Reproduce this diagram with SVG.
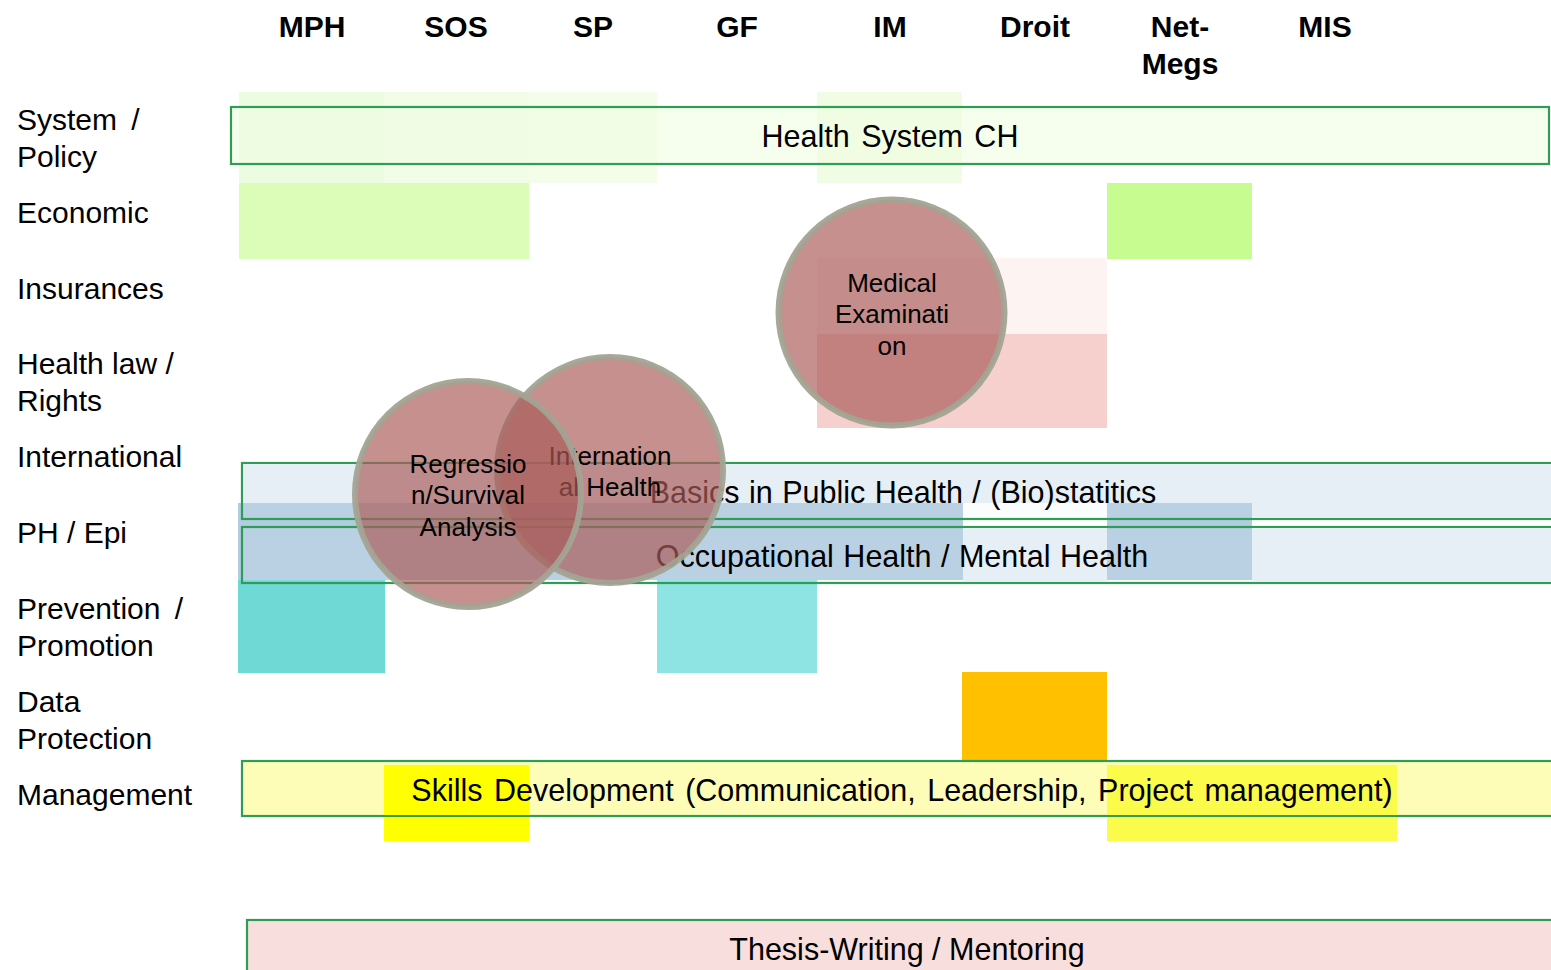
<svg xmlns="http://www.w3.org/2000/svg" width="1551" height="970" viewBox="0 0 1551 970">
<style>
text{font-family:"Liberation Sans",Arial,sans-serif;fill:#000}
.hd{font-size:30px;font-weight:bold;text-anchor:middle}
.rl{font-size:30px}
.bt{font-size:30.5px;text-anchor:middle;word-spacing:3px}
.bt1{word-spacing:1px}
.ct{font-size:26px;text-anchor:middle}
.bar{stroke:#2f9d55;stroke-width:2.2}
.circ{fill:#a95b58;fill-opacity:0.68;stroke:#a3a393;stroke-width:6;stroke-opacity:0.95}
</style>
<rect width="1551" height="970" fill="#fff"/>
<g id="headers">
<text class="hd" x="312" y="37">MPH</text>
<text class="hd" x="456" y="37">SOS</text>
<text class="hd" x="593" y="37">SP</text>
<text class="hd" x="737" y="37">GF</text>
<text class="hd" x="890" y="37">IM</text>
<text class="hd" x="1035" y="37">Droit</text>
<text class="hd" x="1180" y="37">Net-</text>
<text class="hd" x="1180" y="74">Megs</text>
<text class="hd" x="1325" y="37">MIS</text>
</g>
<g id="rowlabels">
<text class="rl" x="17" y="130" style="word-spacing:6px">System /</text>
<text class="rl" x="17" y="167">Policy</text>
<text class="rl" x="17" y="223">Economic</text>
<text class="rl" x="17" y="299">Insurances</text>
<text class="rl" x="17" y="374">Health law /</text>
<text class="rl" x="17" y="411">Rights</text>
<text class="rl" x="17" y="467">International</text>
<text class="rl" x="17" y="543">PH / Epi</text>
<text class="rl" x="17" y="619" style="word-spacing:6px">Prevention /</text>
<text class="rl" x="17" y="656">Promotion</text>
<text class="rl" x="17" y="712">Data</text>
<text class="rl" x="17" y="749">Protection</text>
<text class="rl" x="17" y="805">Management</text>
</g>
<g id="cells">
<rect x="239" y="92" width="145" height="91" fill="#ecfce0"/>
<rect x="384" y="92" width="145" height="91" fill="#f1fde6"/>
<rect x="529" y="92" width="128" height="91" fill="#f3fde9"/>
<rect x="817" y="92" width="145" height="91" fill="#f0fde4"/>
<rect x="239" y="183" width="290" height="76" fill="#dcfdb8"/>
<rect x="1107" y="183" width="145" height="76" fill="#c7fc91"/>
<rect x="817" y="258" width="290" height="76" fill="#fcf3f2"/>
<rect x="817" y="334" width="290" height="94" fill="#f5d0cd"/>
<rect x="238" y="503" width="725" height="77" fill="#b3cde0"/>
<rect x="1107" y="503" width="145" height="77" fill="#b3cde0"/>
<rect x="238" y="580" width="147" height="93" fill="#6fd9d6"/>
<rect x="657" y="580" width="160" height="93" fill="#8ee3e3"/>
<rect x="962" y="672" width="145" height="93" fill="#ffc000"/>
</g>
<g id="bar-health-system">
<rect class="bar" x="231" y="107" width="1318" height="57" fill="#f0fde2" fill-opacity="0.6"/>
<text class="bt" x="890" y="147">Health System CH</text>
</g>
<g id="bar-basics">
<rect class="bar" x="242" y="463" width="1320" height="56" fill="#e6eef6" fill-opacity="0.15"/>
<rect x="963" y="464" width="144" height="39" fill="#e6eef6"/>
<rect x="1252" y="464" width="300" height="54" fill="#e6eef6"/>
<rect x="243" y="464" width="720" height="39" fill="#e6eef6"/>
<rect x="1107" y="464" width="145" height="39" fill="#e6eef6"/>
<text class="bt bt1" x="903" y="503">Basics in Public Health / (Bio)statitics</text>
</g>
<g id="bar-occupational">
<rect class="bar" x="242" y="527" width="1320" height="56" fill="#e6eef6" fill-opacity="0.15"/>
<rect x="963" y="528" width="144" height="54" fill="#e6eef6"/>
<rect x="1252" y="528" width="300" height="54" fill="#e6eef6"/>
<text class="bt bt1" x="902" y="567">Occupational Health / Mental Health</text>
</g>
<g id="bar-skills">
<rect class="bar" x="242" y="761" width="1320" height="55" fill="#fdfdb8"/>
<rect x="384" y="765" width="145" height="76" fill="#ffff00"/>
<rect x="1107" y="765" width="290" height="76" fill="#fbfb4c"/>
<line class="bar" x1="242" y1="761" x2="1551" y2="761"/>
<line class="bar" x1="242" y1="816" x2="1551" y2="816"/>
<text class="bt" x="902" y="801">Skills Development (Communication, Leadership, Project management)</text>
</g>
<g id="bar-thesis">
<rect class="bar" x="247" y="920" width="1320" height="60" fill="#f8dedd"/>
<text class="bt" x="907" y="960" style="word-spacing:0">Thesis-Writing / Mentoring</text>
</g>
<g id="circle-medical">
<circle class="circ" cx="891.5" cy="312.5" r="113"/>
<text class="ct" x="892" y="292">Medical</text>
<text class="ct" x="892" y="323">Examinati</text>
<text class="ct" x="892" y="355">on</text>
</g>
<g id="circle-international">
<circle class="circ" cx="610" cy="470" r="113"/>
<text class="ct" x="610" y="465">Internation</text>
<text class="ct" x="610" y="496">al Health</text>
</g>
<g id="circle-regression">
<circle class="circ" cx="468" cy="494" r="113"/>
<text class="ct" x="468" y="473">Regressio</text>
<text class="ct" x="468" y="504">n/Survival</text>
<text class="ct" x="468" y="536">Analysis</text>
</g>
<g id="connectors"/>
</svg>
